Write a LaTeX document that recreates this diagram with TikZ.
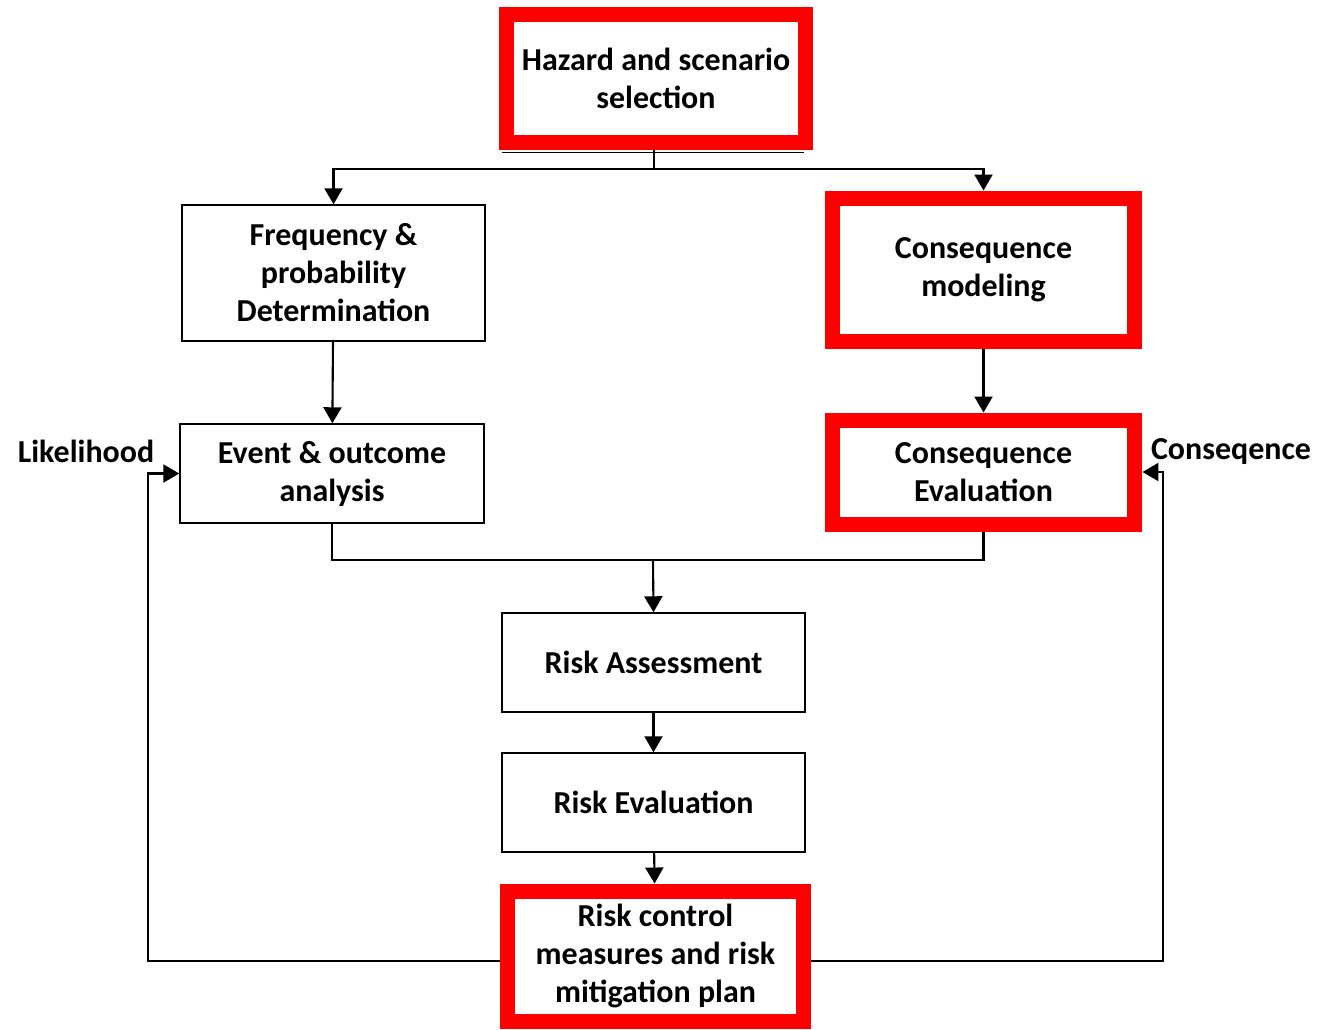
\documentclass[tikz,border=0pt]{standalone}
\usepackage{fontspec}
\setmainfont{Carlito}
\usetikzlibrary{positioning, arrows.meta, calc}

\tikzset{
  blockbox/.style={rectangle, draw, line width=0.85pt, text centered, align=center,
    minimum width=6.06cm, minimum height=1.98cm, inner sep=2pt,
    font=\fontsize{18.2}{21.6}\selectfont\bfseries},
  redbox/.style={blockbox, draw=red, line width=0.3cm},
  conn/.style={line width=1.2pt},
  arr/.style={conn, -{Triangle[width=0.36cm, length=0.32cm]}},
  sidelabel/.style={font=\fontsize{18.2}{21.6}\selectfont\bfseries}
}

\begin{document}
\begin{tikzpicture}[x=0.02cm, y=-0.02cm]
		
		\useasboundingbox (0,0) rectangle (1335,1029);
		
		%nodi del diagramma
		\node (hazard) at (656,78.5) [redbox, minimum width=5.98cm, minimum height=2.58cm] {Hazard and scenario\\selection};
		
		\node (freq) at (333.5,273) [blockbox, minimum height=2.72cm] {Frequency \&\\probability\\Determination};
		
		\node (event) at (332,473.5) [blockbox, minimum width=6.08cm] {Event \& outcome\\analysis};
		
		\node (model) at (983.5,270) [redbox, minimum height=2.88cm] {Consequence\\modeling};
		
		\node (ceval) at (983.5,472) [redbox, minimum height=2.08cm] {Consequence\\Evaluation};
		
		\node (assess) at (653.5,662.5) [blockbox] {Risk Assessment};
		
		\node (reval) at (653.5,802.5) [blockbox] {Risk Evaluation};
		
		\node (control) at (655.5,956) [redbox, minimum width=5.94cm, minimum height=2.6cm] {Risk control\\measures and risk\\mitigation plan};
		
		\node (likelihood) at (86,451) [sidelabel] {Likelihood};
		
		\node (conseq) at (1231,452) [sidelabel] {Conseqence};
		
		%bordo nero sotto il riquadro rosso
		\draw[line width=0.85pt] ($(hazard.south west)+(3,2)$) -- ($(hazard.south east)+(-9,2)$);
		
		%punti di snodo
		\coordinate (topsplit) at (654,169);
		\coordinate (merge) at (653,560);
		\coordinate (lbend) at (148,961);
		\coordinate (rbend) at (1163,961);
		
		\draw[conn] (hazard.south -| topsplit) -- (topsplit);
		\draw[arr] (topsplit) -| (freq.north);
		\draw[arr] (topsplit) -| (model.north);
		\draw[arr] (freq) -- (event);
		\draw[arr] (model) -- (ceval);
		\draw[conn] (event.south) |- (merge) -| (ceval.south);
		\draw[arr] (merge) -- (assess.north);
		\draw[arr] (assess) -- (reval);
		\draw[arr] (reval) -- (control);
		\draw[arr] (control.west |- lbend) -- (lbend) |- (event.west);
		\draw[arr] (control.east |- rbend) -- (rbend) |- (ceval.east);
		
		\end{tikzpicture}
\end{document}
